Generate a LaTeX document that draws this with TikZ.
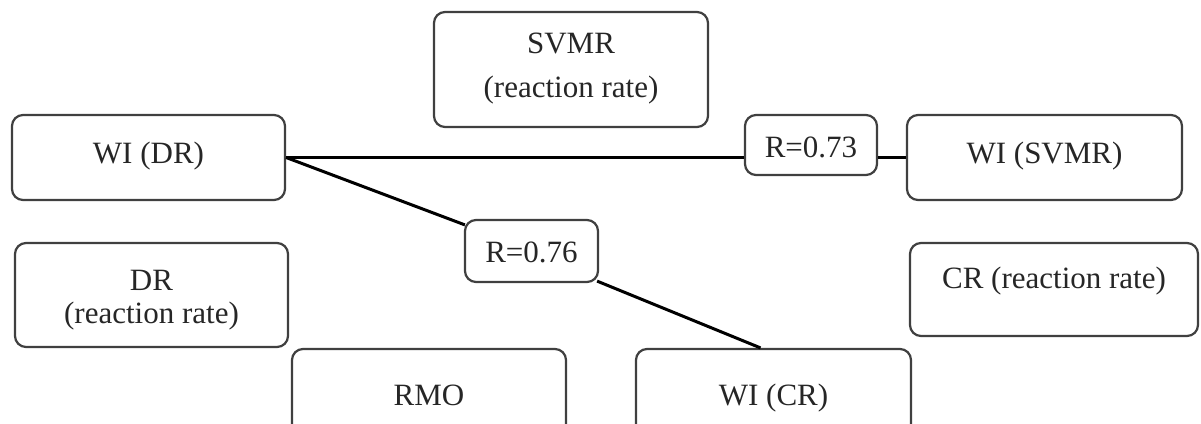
\documentclass[tikz,border=0pt]{standalone}
\usepackage{fontspec}
\setmainfont{Liberation Serif}
\begin{document}
\begin{tikzpicture}[x=1pt,y=-1pt,
  box/.style={draw=black!75, line width=2.2pt, rounded corners=11pt, inner sep=0pt},
  txt/.style={anchor=base, inner sep=0pt, text=black!85, font=\fontsize{31}{37}\selectfont},
  conn/.style={draw=black, line width=3pt}]
\useasboundingbox (0,0) rectangle (1201,423);
\clip (0,0) rectangle (1201,423);
\fill[white] (0,0) rectangle (1201,423);
% boxes
\node[box, minimum width=274pt, minimum height=115pt] (svmr) at (571,69.5) {};
\node[box, minimum width=273pt, minimum height=85pt] (wdr) at (148.5,157.5) {};
\node[box, minimum width=132pt, minimum height=60pt] (r73) at (811,145) {};
\node[box, minimum width=275pt, minimum height=85pt] (wsvmr) at (1044.5,157.5) {};
\node[box, minimum width=133pt, minimum height=62pt] (r76) at (531.5,251) {};
\node[box, minimum width=273pt, minimum height=104pt] (dr) at (151.5,295) {};
\node[box, minimum width=288pt, minimum height=93pt] (cr) at (1054,289.5) {};
\node[box, minimum width=274pt, minimum height=92pt] (rmo) at (429,395) {};
\node[box, minimum width=275pt, minimum height=92pt] (wcr) at (773.5,395) {};
% texts
\node[txt] (svmrt1) at (571,53) {SVMR};
\node[txt] (svmrt2) at (571,97) {(reaction rate)};
\node[txt] (wdrt) at (148.5,163) {WI (DR)};
\node[txt] (r73t) at (811,157) {R=0.73};
\node[txt] (wsvmrt) at (1044.5,163) {WI (SVMR)};
\node[txt] (r76t) at (531.5,262) {R=0.76};
\node[txt] (drt1) at (151.5,290) {DR};
\node[txt] (drt2) at (151.5,323) {(reaction rate)};
\node[txt] (crt) at (1054,288) {CR (reaction rate)};
\node[txt] (rmot) at (429,405) {RMO};
\node[txt] (wcrt) at (773.5,405) {WI (CR)};
% connectors
\draw[conn] (wdr.east) -- (wdr.east -| r73.west);
\draw[conn] (r73.east |- wsvmr.west) -- (wsvmr.west);
\draw[conn] (wdr.east) -- ([shift={(1pt,-6pt)}]r76.north west);
\draw[conn] ([shift={(-2pt,2pt)}]r76.south east) -- ([xshift=-13pt]wcr.north);
\end{tikzpicture}
\end{document}
